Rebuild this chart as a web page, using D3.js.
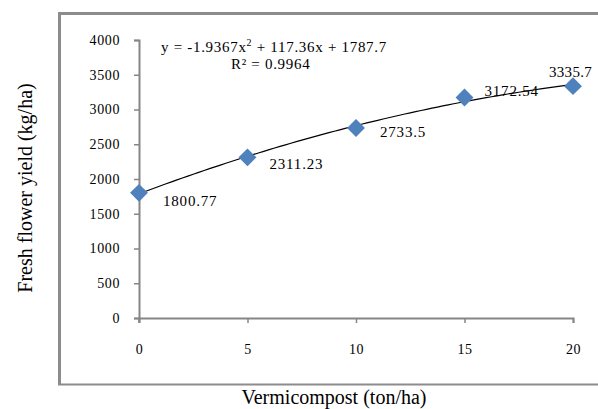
<!DOCTYPE html>
<html>
<head>
<meta charset="utf-8">
<script src="https://cdn.jsdelivr.net/npm/d3@7"></script>
<style>
  body { margin: 0; background: #fff; }
  text { font-family: "Liberation Serif", "Times New Roman", serif; fill: #000; }
</style>
</head>
<body>
<div id="chart"></div>
<script>
// data
const doses = [0, 5, 10, 15, 20]
const yields = [1800.77, 2311.23, 2733.5, 3172.54, 3335.7]
const yieldLabels = ['1800.77', '2311.23', '2733.5', '3172.54', '3335.7']
const xTicks = [0, 5, 10, 15, 20]
const yTicks = [0, 500, 1000, 1500, 2000, 2500, 3000, 3500, 4000]
// trendline coefficients as printed on the chart (a, b, c of ax^2 + bx + c)
const trendCoef = [-1.9367, 117.36, 1787.7]

const width = 598,
  height = 409

const plotLeft = 139, plotRight = 573, plotTop = 40, plotBottom = 318

let svg = d3.select('#chart')
  .append('svg')
  .attr('width', width)
  .attr('height', height)

// outer frame (right side runs off the picture)
svg.append('path')
  .attr('d', `M59.5,384 L59.5,13.5 L620,13.5`)
  .attr('fill', 'none')
  .attr('stroke', '#8c8c8c')
  .attr('stroke-width', 3)
svg.append('line')
  .attr('x1', 58).attr('x2', 620)
  .attr('y1', 384.5).attr('y2', 384.5)
  .attr('stroke', '#8c8c8c')
  .attr('stroke-width', 2)

let x = d3.scaleLinear().domain([0, 20]).range([plotLeft, plotRight])
let y = d3.scaleLinear().domain([0, 4000]).range([plotBottom, plotTop])

// axes
let yAxis = svg.append('g')
  .attr('transform', `translate(${plotLeft},0)`)
  .call(d3.axisLeft(y).tickValues(yTicks).tickSize(5).tickPadding(14).tickFormat(d3.format('d')))
let xAxis = svg.append('g')
  .attr('transform', `translate(0,${plotBottom})`)
  .call(d3.axisBottom(x).tickValues(xTicks).tickSize(5).tickPadding(21))

;[yAxis, xAxis].forEach(g => {
  g.select('.domain').attr('stroke', '#868686').attr('stroke-width', 2)
  g.selectAll('.tick line').attr('stroke', '#868686').attr('stroke-width', 1.5)
  g.selectAll('.tick text')
    .attr('font-family', '"Liberation Serif", serif')
    .attr('font-size', 14)
    .attr('letter-spacing', 0.6)
    .attr('fill', '#000')
})
// y axis line pokes a bit below the x axis
svg.append('line')
  .attr('x1', plotLeft).attr('x2', plotLeft)
  .attr('y1', plotBottom).attr('y2', plotBottom + 5)
  .attr('stroke', '#868686').attr('stroke-width', 1.5)

// trendline from the printed equation
let trend = d3.range(0, 20.01, 0.25).map(t => [t, trendCoef[0] * t * t + trendCoef[1] * t + trendCoef[2]])
svg.append('path')
  .datum(trend)
  .attr('fill', 'none')
  .attr('stroke', '#000')
  .attr('stroke-width', 1.2)
  .attr('d', d3.line().x(d => x(d[0])).y(d => y(d[1])))

// diamond markers
svg.selectAll('.pt')
  .data(doses)
  .enter()
  .append('path')
  .attr('class', 'pt')
  .attr('d', d3.symbol().type(d3.symbolSquare).size(160))
  .attr('transform', (d, i) => `translate(${x(d)},${y(yields[i])}) rotate(45)`)
  .attr('fill', '#4f81bd')

// data labels, offsets as placed in the picture
const labelDx = [24, 22, 24, 20, -24]
const labelDy = [9, 8, 5, -6, -13]
svg.selectAll('.lbl')
  .data(yieldLabels)
  .enter()
  .append('text')
  .attr('class', 'lbl')
  .attr('x', (d, i) => x(doses[i]) + labelDx[i])
  .attr('y', (d, i) => y(yields[i]) + labelDy[i] + 4)
  .attr('font-size', 15)
  .attr('letter-spacing', (d, i) => i === 4 ? 0.3 : 0.8)
  .text(d => d)

// equation and R²
let eq = svg.append('text')
  .attr('x', 161)
  .attr('y', 52)
  .attr('font-size', 15)
  .attr('letter-spacing', 0.7)
eq.append('tspan').text('y = -1.9367x')
eq.append('tspan').attr('dy', -6).attr('font-size', 10).text('2')
eq.append('tspan').attr('dy', 6).text(' + 117.36x + 1787.7')

svg.append('text')
  .attr('x', 231)
  .attr('y', 69)
  .attr('font-size', 15)
  .attr('letter-spacing', 0.7)
  .text('R² = 0.9964')

// axis titles
svg.append('text')
  .attr('transform', `translate(32,188) rotate(-90)`)
  .attr('text-anchor', 'middle')
  .attr('font-size', 20)
  .text('Fresh flower yield (kg/ha)')

svg.append('text')
  .attr('x', 334)
  .attr('y', 404)
  .attr('text-anchor', 'middle')
  .attr('font-size', 20)
  .text('Vermicompost (ton/ha)')
</script>
</body>
</html>
